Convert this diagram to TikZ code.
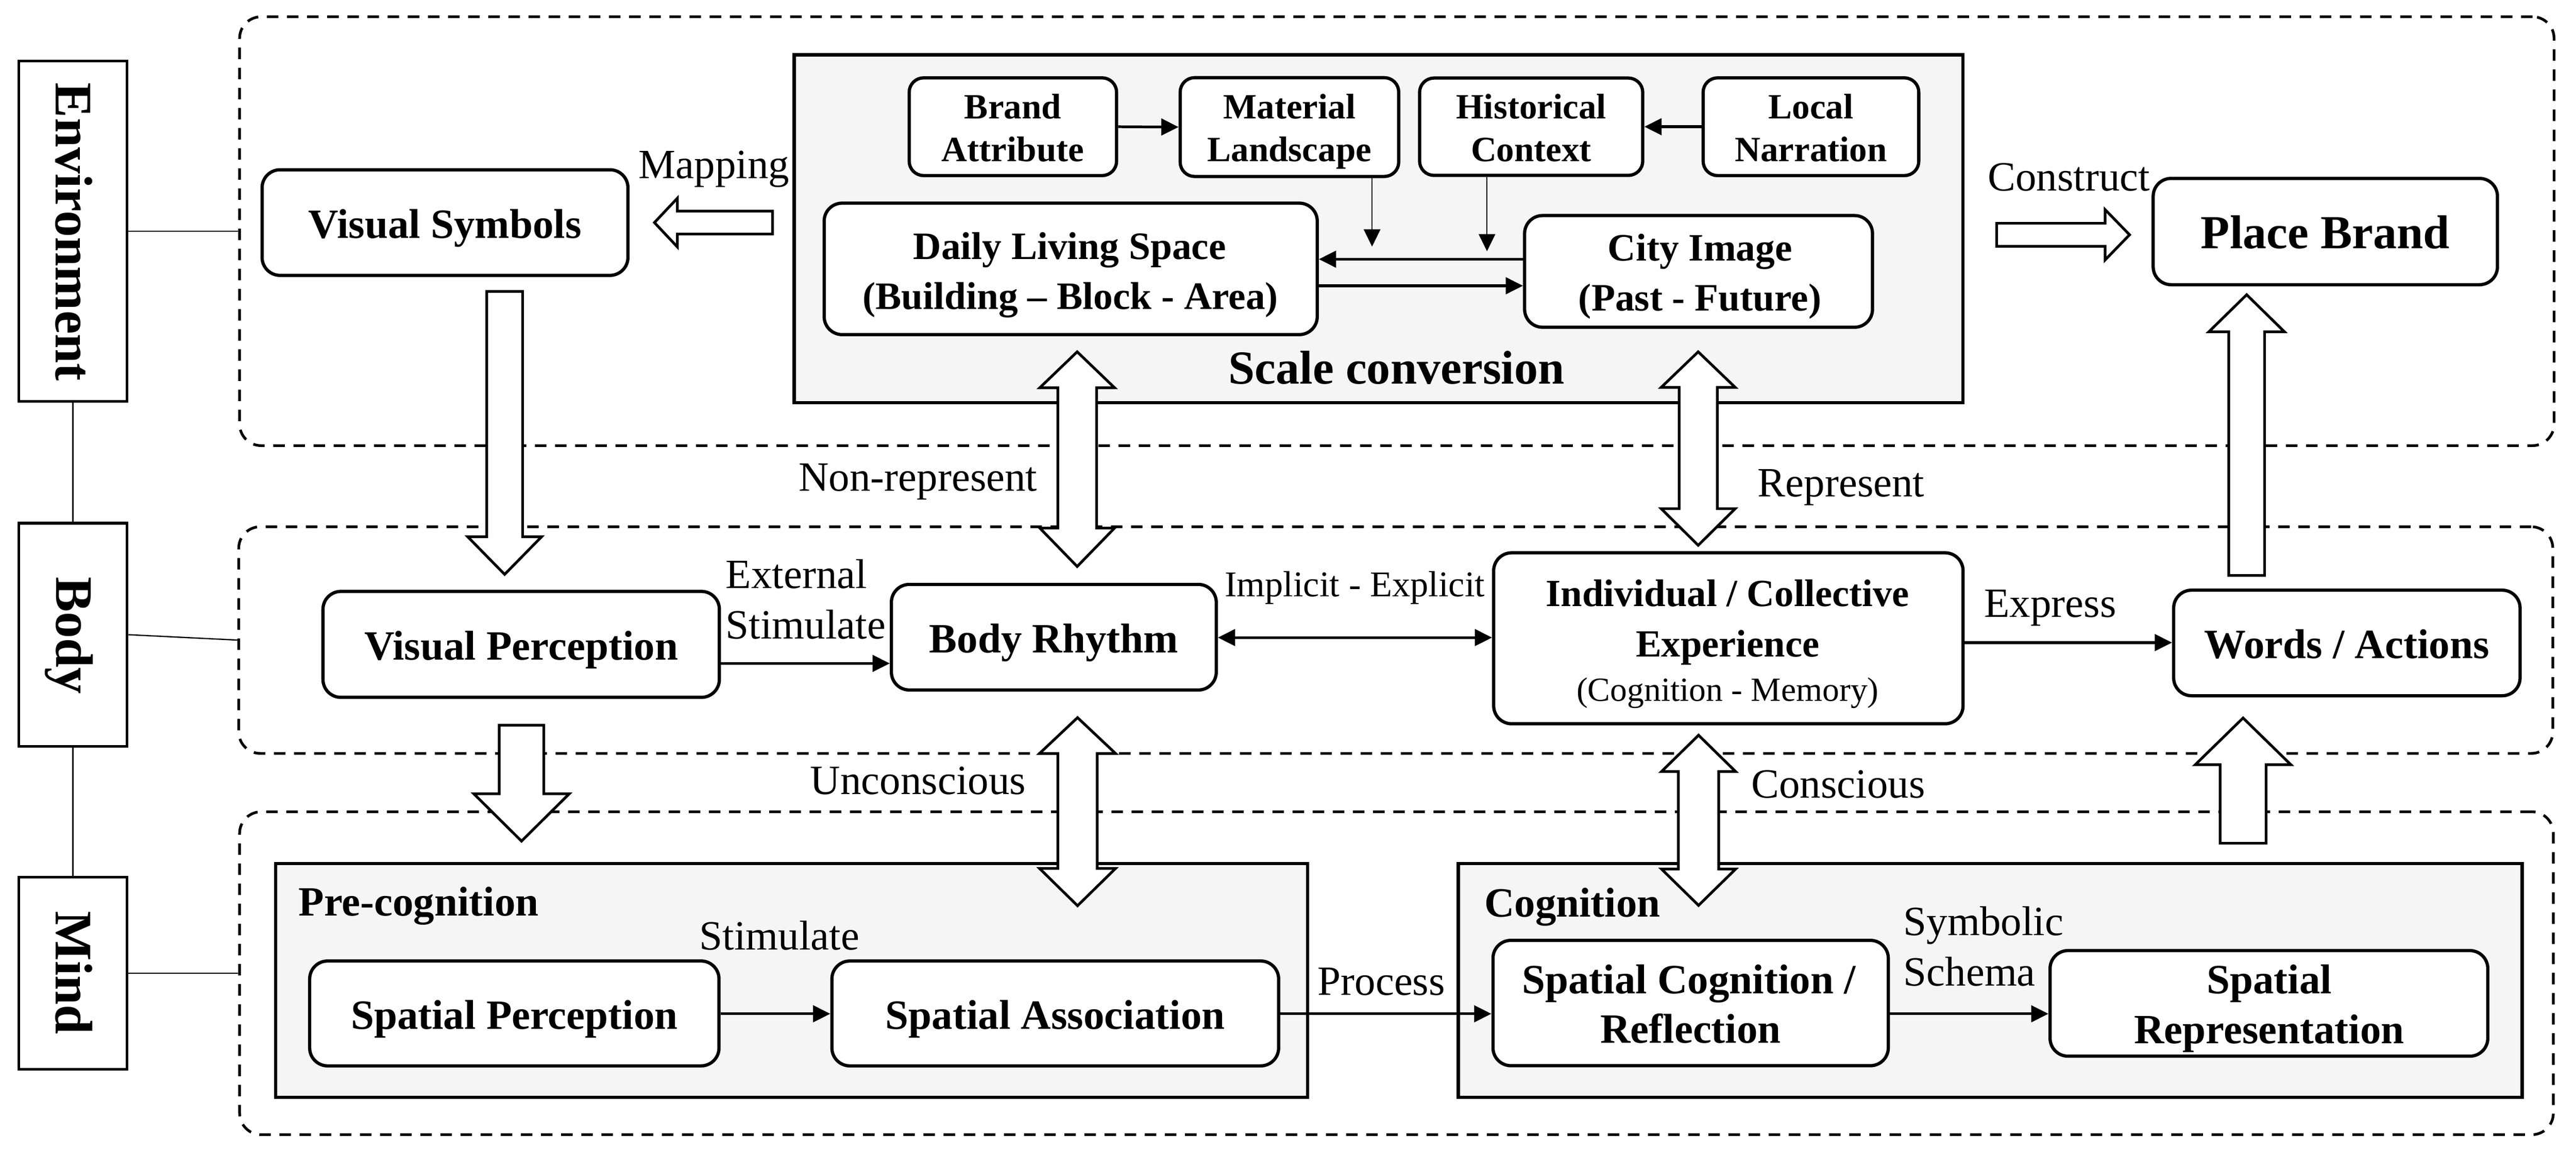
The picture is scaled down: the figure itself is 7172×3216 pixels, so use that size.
\documentclass[tikz,border=0pt]{standalone}
\usepackage{fontspec}
\setmainfont{Liberation Serif}
\usetikzlibrary{arrows.meta}
\definecolor{grayfill}{RGB}{245,245,245}
\newcommand\FsLbl{\fontsize{33}{39.83}\selectfont}
\newcommand\FsNode{\bfseries\fontsize{33}{39.83}\selectfont}
\newcommand\FsBig{\bfseries\fontsize{37.56}{45}\selectfont}
\newcommand\FsMid{\bfseries\fontsize{30.73}{39.83}\selectfont}
\newcommand\FsInd{\bfseries\fontsize{30.44}{39.83}\selectfont}
\newcommand\FsMem{\fontsize{26.75}{32}\selectfont}
\newcommand\FsSmall{\bfseries\fontsize{28.17}{33.86}\selectfont}
\newcommand\FsImp{\fontsize{28.74}{34}\selectfont}
\newcommand\FsSide{\bfseries\fontsize{41.8}{50}\selectfont}
\newcommand\VArr[6]{\draw[hollow] (#1-#5,#2) -- (#1-#5,#3) -- (#1-#6,#3) -- (#1,#4) -- (#1+#6,#3) -- (#1+#5,#3) -- (#1+#5,#2) -- cycle;}
\newcommand\DVArr[7]{\draw[hollow] (#1,#2) -- (#1+#7,#3) -- (#1+#6,#3) -- (#1+#6,#4) -- (#1+#7,#4) -- (#1,#5) -- (#1-#7,#4) -- (#1-#6,#4) -- (#1-#6,#3) -- (#1-#7,#3) -- cycle;}
\begin{document}
\begin{tikzpicture}[x=0.01cm,y=-0.01cm,
  box/.style={draw, line width=0.09cm, rounded corners=0.5cm, fill=white, inner sep=0pt},
  sbox/.style={box, rounded corners=0.4cm},
  one/.style={font=\FsNode, text height=0.86cm, text depth=0pt},
  dashbox/.style={draw, line width=0.075cm, dash pattern=on 0.32cm off 0.24cm, rounded corners=0.6cm, inner sep=0pt},
  graybox/.style={draw, line width=0.09cm, fill=grayfill, inner sep=0pt},
  sidebox/.style={draw, line width=0.075cm, inner sep=0pt, minimum width=3.02cm},
  sidelbl/.style={font=\FsSide, rotate=-90, anchor=base, inner sep=0pt},
  lbl/.style={font=\FsLbl, anchor=base, inner sep=0pt},
  txt/.style={anchor=base, inner sep=0pt},
  hollow/.style={draw, line width=0.075cm, fill=white, line join=miter},
  arr/.style={line width=0.075cm, -{Triangle[length=0.48cm,width=0.46cm]}},
  darr/.style={line width=0.075cm, {Triangle[length=0.48cm,width=0.46cm]}-{Triangle[length=0.48cm,width=0.46cm]}},
  thinarr/.style={line width=0.035cm, -{Triangle[length=0.48cm,width=0.46cm]}},
  link/.style={line width=0.035cm}]
\useasboundingbox (0,0) rectangle (7172,3216);

% layer containers
\node[dashbox, minimum width=64.40cm, minimum height=11.94cm] (dT) at (3889,644) {};
\node[dashbox, minimum width=64.39cm, minimum height=6.31cm] (dM) at (3886,1783) {};
\node[dashbox, minimum width=64.38cm, minimum height=8.99cm] (dB) at (3888,2711) {};

\node[graybox, minimum width=32.52cm, minimum height=9.68cm] (gS) at (3838,637) {};
\node[graybox, minimum width=28.72cm, minimum height=6.50cm] (gP) at (2204,2731) {};
\node[graybox, minimum width=29.60cm, minimum height=6.50cm] (gC) at (5541,2731) {};

% side labels
\node[sidebox, minimum height=9.48cm] (env) at (203,644) {};
\node[sidebox, minimum height=6.21cm] (body) at (203,1768) {};
\node[sidebox, minimum height=5.35cm] (mind) at (203,2711) {};
\node[sidelbl] (tEnv) at (155,646) {Environment};
\node[sidelbl] (tBody) at (157,1770) {Body};
\node[sidelbl] (tMind) at (155,2710) {Mind};
\draw[link] (env.south) -- (body.north);
\draw[link] (body.south) -- (mind.north);
\draw[link] (env.east) -- (dT.west);
\draw[link] (body.east) -- (dM.west);
\draw[link] (mind.east) -- (dB.west);

% top row
\node[box, one, minimum width=10.18cm, minimum height=2.94cm] (vs) at (1239,620) {Visual Symbols};
\node[sbox, minimum width=5.77cm, minimum height=2.72cm] (brand) at (2820,353) {};
\node[sbox, minimum width=6.08cm, minimum height=2.75cm] (mat) at (3590,354) {};
\node[sbox, minimum width=6.21cm, minimum height=2.71cm] (hist) at (4263,353) {};
\node[sbox, minimum width=6.00cm, minimum height=2.72cm] (loc) at (5042,353) {};
\node[txt, font=\FsSmall] (tB1) at (2820,330) {Brand};
\node[txt, font=\FsSmall] (tB2) at (2820,450) {Attribute};
\node[txt, font=\FsSmall] (tM1) at (3590,330) {Material};
\node[txt, font=\FsSmall] (tM2) at (3590,450) {Landscape};
\node[txt, font=\FsSmall] (tH1) at (4263,330) {Historical};
\node[txt, font=\FsSmall] (tH2) at (4263,450) {Context};
\node[txt, font=\FsSmall] (tL1) at (5042,330) {Local};
\node[txt, font=\FsSmall] (tL2) at (5042,450) {Narration};
\node[box, minimum width=13.72cm, minimum height=3.66cm] (daily) at (2981,749) {};
\node[txt, font=\FsMid] (tD1) at (2978,722) {Daily Living Space};
\node[txt, font=\FsMid] (tD2) at (2980,862) {(Building – Block - Area)};
\node[box, minimum width=9.68cm, minimum height=3.11cm] (city) at (4729,756) {};
\node[txt, font=\FsMid] (tC1) at (4733,727) {City Image};
\node[txt, font=\FsMid] (tC2) at (4733,866) {(Past - Future)};
\node[box, font=\FsBig, text height=0.94cm, text depth=0pt, minimum width=9.58cm, minimum height=2.96cm] (pb) at (6474,645) {Place Brand};
\node[txt, font=\FsBig] (tScale) at (3888,1069) {Scale conversion};

\coordinate (h722) at (0,722);
\coordinate (h796) at (0,796);
\coordinate (mtip) at (3820,687);
\coordinate (htip) at (4140,700);
\draw[arr] (brand.east) -- (mat.west);
\draw[arr] (loc.west) -- (hist.east);
\draw[arr] (city.west |- h722) -- (daily.east |- h722);
\draw[arr] (daily.east |- h796) -- (city.west |- h796);
\draw[thinarr] (mat.south -| mtip) -- (mtip);
\draw[thinarr] (hist.south -| htip) -- (htip);

% middle row
\node[box, one, minimum width=11.03cm, minimum height=2.95cm] (vp) at (1451,1795) {Visual Perception};
\node[box, one, minimum width=9.04cm, minimum height=2.94cm] (br) at (2934,1775) {Body Rhythm};
\node[box, minimum width=13.06cm, minimum height=4.76cm] (ind) at (4812,1778) {};
\node[txt, font=\FsInd] (tI1) at (4810,1689) {Individual / Collective};
\node[txt, font=\FsInd] (tI2) at (4810,1830) {Experience};
\node[txt, font=\FsMem] (tI3) at (4810,1953) {(Cognition - Memory)};
\node[box, one, minimum width=9.64cm, minimum height=2.94cm] (wa) at (6534,1791) {Words / Actions};

\coordinate (h1848) at (0,1848);
\coordinate (h1776) at (0,1776);
\coordinate (h1790) at (0,1790);
\draw[arr] (vp.east |- h1848) -- (br.west |- h1848);
\draw[darr] (br.east |- h1776) -- (ind.west |- h1776);
\draw[arr] (ind.east |- h1790) -- (wa.west |- h1790);

% bottom row
\node[box, one, minimum width=11.39cm, minimum height=2.92cm] (sp) at (1432,2823) {Spatial Perception};
\node[box, one, minimum width=12.43cm, minimum height=2.92cm] (sa) at (2938,2823) {Spatial Association};
\node[box, minimum width=11.00cm, minimum height=3.49cm] (sc) at (4707,2794) {};
\node[txt, font=\FsNode] (tS1) at (4702,2768) {Spatial Cognition /};
\node[txt, font=\FsNode] (tS2) at (4707,2906) {Reflection};
\node[box, minimum width=12.18cm, minimum height=2.94cm] (sr) at (6317,2795) {};
\node[txt, font=\FsNode] (tR1) at (6318,2768) {Spatial};
\node[txt, font=\FsNode] (tR2) at (6318,2907) {Representation};

\coordinate (h2824) at (0,2824);
\draw[arr] (sp.east |- h2824) -- (sa.west |- h2824);
\draw[arr] (sa.east |- h2824) -- (sc.west |- h2824);
\draw[arr] (sc.east |- h2824) -- (sr.west |- h2824);

% block arrows
\draw[hollow] (2151,588) -- (1886,588) -- (1886,552) -- (1822,620) -- (1886,688) -- (1886,652) -- (2151,652) -- cycle;
\draw[hollow] (5559,622) -- (5861,622) -- (5861,584) -- (5929,654) -- (5861,724) -- (5861,686) -- (5559,686) -- cycle;
\VArr{1405}{812}{1495}{1600}{50}{103}
\VArr{1452}{2020}{2211}{2343}{62}{133}
\VArr{6255}{1603}{924}{821}{50}{105}
\VArr{6245}{2349}{2130}{2000}{64}{133}
\DVArr{2999}{980}{1080}{1471}{1578}{54}{104}
\DVArr{4728}{980}{1079}{1417}{1519}{53}{103}
\DVArr{3000}{1999}{2099}{2419}{2523}{55}{106}
\DVArr{4729}{2048}{2149}{2421}{2522}{56}{103}

% labels
\node[lbl] (lMap) at (1988,497) {Mapping};
\node[lbl] (lCon) at (5760,531) {Construct};
\node[lbl] (lNon) at (2556,1368) {Non-represent};
\node[lbl] (lRep) at (5126,1383) {Represent};
\node[lbl, anchor=base west] (lExt1) at (2020,1639) {External};
\node[lbl, anchor=base west] (lExt2) at (2020,1779) {Stimulate};
\node[lbl, font=\FsImp] (lImp) at (3772,1662) {Implicit - Explicit};
\node[lbl] (lExp) at (5708,1719) {Express};
\node[lbl] (lUnc) at (2556,2213) {Unconscious};
\node[lbl] (lCns) at (5118,2223) {Conscious};
\node[lbl, font=\FsNode, anchor=base west] (lPre) at (831,2551) {Pre-cognition};
\node[lbl, anchor=base west] (lSti) at (1947,2646) {Stimulate};
\node[lbl] (lPro) at (3846,2772) {Process};
\node[lbl, font=\FsNode, anchor=base west] (lCog) at (4132,2554) {Cognition};
\node[lbl, anchor=base west] (lSym1) at (5299,2605) {Symbolic};
\node[lbl, anchor=base west] (lSym2) at (5299,2746) {Schema};
\end{tikzpicture}
\end{document}
